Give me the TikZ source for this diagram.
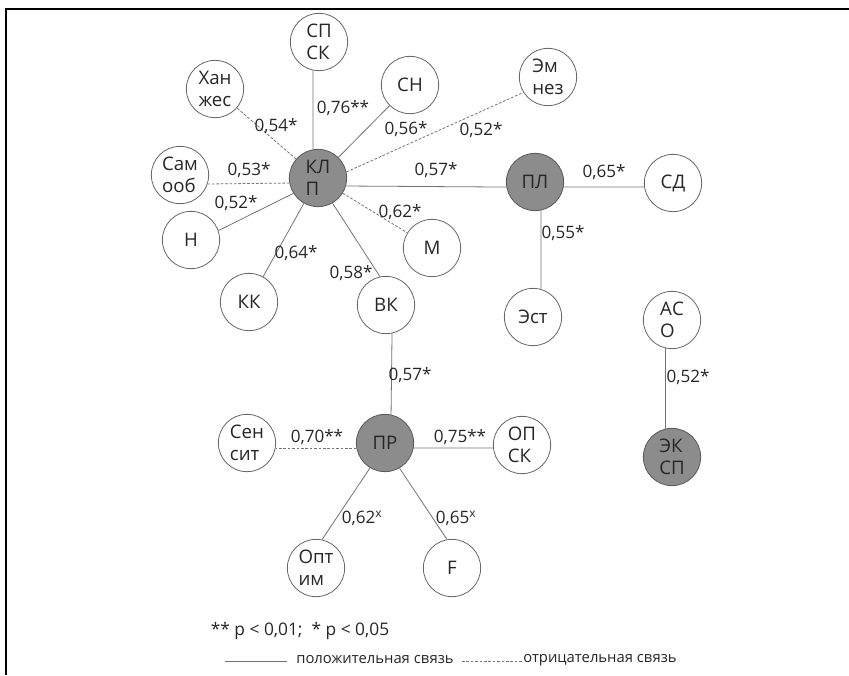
\documentclass[tikz,border=0pt]{standalone}
\usepackage{fontspec}
\setmainfont{Open Sans}
\begin{document}
\begin{tikzpicture}[x=0.75pt, y=-0.75pt,
  var/.style = {circle, draw=black!60, fill=white, line width=0.6pt, minimum size=43pt, inner sep=0pt, align=left, font=\fontsize{14}{16.5}\selectfont, text=black!85},
  core/.style = {var, fill=black!45, draw=black!65},
  poslink/.style = {draw=black!55, line width=0.6pt},
  neglink/.style = {poslink, dash pattern=on 2pt off 1.3pt},
  lbl/.style = {font=\fontsize{12.8}{14}\selectfont, inner sep=0pt, text=black!85}]
\useasboundingbox (0,0) rectangle (849,675);
\draw[line width=1.5pt] (6,675) -- (6,9) -- (849,9);
% variables
\node[core] (klp) at (318,178) {КЛ\\П};
\node[var] (spsk) at (319,42) {СП\\СК};
\node[var] (hanzh) at (215,89) {Хан\\жес};
\node[var] (sn) at (410,85) {СН};
\node[var] (emnez) at (548,77) {Эм\\нез};
\node[var] (samoob) at (180,175) {Сам\\ооб};
\node[var] (nd) at (191,240) {Н};
\node[var] (kk) at (249,302) {КК};
\node[var] (vk) at (386,305) {ВК};
\node[var] (m) at (432,248) {М};
\node[core] (pl) at (535,182) {ПЛ};
\node[var] (sd) at (673,183) {СД};
\node[var] (est) at (533,317) {Эст};
\node[var] (aso) at (672,320) {АС\\О};
\node[core] (eksp) at (672,457) {ЭК\\СП};
\node[core] (pr) at (385,443) {ПР};
\node[var] (sensit) at (247,443) {Сен\\сит};
\node[var] (opsk) at (522,445) {ОП\\СК};
\node[var] (optim) at (316,568) {Опт\\им};
\node[var] (f) at (452,568) {F};
% links
\draw[poslink] (klp.100) -- (spsk.258);
\draw[neglink] (klp) -- (hanzh);
\draw[poslink] (klp) -- (sn);
\draw[neglink] (klp.12) -- (emnez.212);
\draw[neglink] (klp.190) -- (samoob.-18);
\draw[poslink] (klp.212) -- (nd.19);
\draw[poslink] (klp) -- (kk);
\draw[poslink] (klp.-60) -- (vk.102);
\draw[neglink] (klp) -- (m);
\draw[poslink] (klp.-16) -- (pl.190);
\draw[poslink] (pl.-10) -- (sd.188);
\draw[poslink] (pl.-78) -- (est.74);
\draw[poslink] (aso.256) -- (eksp.104);
\draw[poslink] (vk.-78) -- (pr.78);
\draw[neglink] (pr.190) -- (sensit.-10);
\draw[poslink] (pr.-10) -- (opsk.186);
\draw[poslink] (pr.239) -- (optim.78);
\draw[poslink] (pr.-60) -- (f.100);
% coefficients
\node[lbl] (c1) at (343,108) {0,76**};
\node[lbl] (c2) at (276,126) {0,54*};
\node[lbl] (c3) at (406,129) {0,56*};
\node[lbl] (c4) at (481,130) {0,52*};
\node[lbl] (c5) at (249,170) {0,53*};
\node[lbl] (c6) at (436,170) {0,57*};
\node[lbl] (c7) at (236,203) {0,52*};
\node[lbl] (c8) at (400,212) {0,62*};
\node[lbl] (c9) at (296,253) {0,64*};
\node[lbl] (c10) at (351,273) {0,58*};
\node[lbl] (c11) at (604,172) {0,65*};
\node[lbl] (c12) at (563,233) {0,55*};
\node[lbl] (c13) at (688,377) {0,52*};
\node[lbl] (c14) at (410,375) {0,57*};
\node[lbl] (c15) at (317,437) {0,70**};
\node[lbl] (c16) at (460,437) {0,75**};
\node[lbl] (c17) at (362,518) {0,62\textsuperscript{x}};
\node[lbl] (c18) at (456,518) {0,65\textsuperscript{x}};
% legend
\node[lbl, font=\fontsize{13}{15}\selectfont] (sig) at (300,631) {** p < 0,01;\ \ * p < 0,05};
\coordinate (sa) at (225,661);
\coordinate (sb) at (287,661);
\coordinate (da) at (462,661);
\coordinate (db) at (522,661);
\draw[poslink] (sa) -- (sb);
\draw[neglink] (da) -- (db);
\node[lbl, font=\fontsize{11.1}{14}\selectfont] (postxt) at (375,660) {положительная связь};
\node[lbl, font=\fontsize{11.1}{14}\selectfont] (negtxt) at (600,660) {отрицательная связь};
\end{tikzpicture}
\end{document}
